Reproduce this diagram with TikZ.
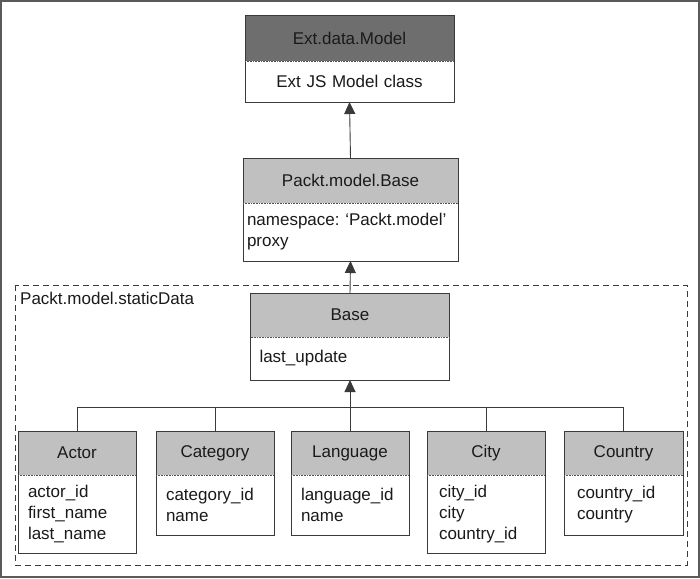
\documentclass[tikz,border=0pt]{standalone}
\usepackage{fontspec}
\setmainfont{Liberation Sans}
\usetikzlibrary{arrows.meta}
\frenchspacing
\definecolor{hdr}{HTML}{C0C0C0}
\definecolor{darkhdr}{HTML}{6E6E6E}
\definecolor{ln}{HTML}{3A3A3A}
\definecolor{txt}{HTML}{1A1A1A}
\definecolor{frame}{HTML}{5A5A5A}
\definecolor{sepc}{HTML}{555555}
\begin{document}
\begin{tikzpicture}[x=1pt,y=-1pt,
  font=\fontsize{17}{21}\selectfont, text=txt,
  hd/.style={fill=hdr, inner sep=0pt, outer sep=0pt, minimum height=44pt},
  bd/.style={fill=white, inner ysep=0pt, inner xsep=9pt, outer sep=0pt, align=left},
  outline/.style={draw=ln, line width=0.9pt},
  sep/.style={draw=sepc, line width=0.6pt, dash pattern=on 0.6pt off 1pt},
  arr/.style={draw=ln, line width=0.9pt, -{Triangle[length=12pt,width=11pt]}},
  conn/.style={draw=ln, line width=0.9pt},
]
\useasboundingbox (0,0) rectangle (700,578);
\draw[frame, line width=2pt] (1,1) rectangle (699,577);

% Ext.data.Model
\node[hd, fill=darkhdr, minimum width=209pt, minimum height=46pt] (extH) at (349.5,38) {Ext.data.Model};
\node[bd, align=center, text width=191pt, minimum height=41pt, anchor=north] (extB) at (extH.south) {Ext JS Model class};
\draw[outline] (extH.north west) rectangle (extB.south east);
\draw[sep] (extH.south west) -- (extH.south east);

% Packt.model.Base
\node[hd, minimum width=215pt, minimum height=45pt] (pkH) at (350.5,180.5) {Packt.model.Base};
\node[bd, text width=207pt, inner xsep=4pt, minimum height=58pt, anchor=north] (pkB) at (pkH.south) {namespace: ‘Packt.model’\\proxy};
\draw[outline] (pkH.north west) rectangle (pkB.south east);
\draw[sep] (pkH.south west) -- (pkH.south east);

% dashed package
\draw[ln, line width=0.9pt, dash pattern=on 6pt off 4pt] (15,285) rectangle (687,565);
\node[anchor=west, inner sep=0pt] (pkgLabel) at (20,298) {Packt.model.staticData};

% Base
\node[hd, minimum width=199pt, minimum height=44pt] (baseH) at (350,315) {Base};
\node[bd, text width=181pt, inner xsep=9pt, minimum height=43pt, anchor=north] (baseB) at (baseH.south) {last\_update};
\draw[outline] (baseH.north west) rectangle (baseB.south east);
\draw[sep] (baseH.south west) -- (baseH.south east);

% children
\newcommand{\childbox}[5]{%
  \node[hd, minimum width=#3pt] (#1H) at (#2,453) {#4};
  \node[bd, text width=#3pt-20pt, inner xsep=10pt, minimum height=#5pt, anchor=north] (#1B) at (#1H.south) {\strut};
  \draw[outline] (#1H.north west) rectangle (#1B.south east);
  \draw[sep] (#1H.south west) -- (#1H.south east);
}
\childbox{actor}{77}{118}{Actor}{78}
\childbox{category}{215}{118}{Category}{60}
\childbox{language}{350}{118}{Language}{60}
\childbox{city}{486}{118}{City}{78}
\childbox{country}{623.5}{119}{Country}{60}

\node[bd, fill=none, text width=98pt, inner xsep=10pt, minimum height=78pt, anchor=north] (actorT) at (actorH.south) {actor\_id\\first\_name\\last\_name};
\node[bd, fill=none, text width=98pt, inner xsep=10pt, minimum height=60pt, anchor=north] (categoryT) at (categoryH.south) {category\_id\\name};
\node[bd, fill=none, text width=98pt, inner xsep=10pt, minimum height=60pt, anchor=north] (languageT) at (languageH.south) {language\_id\\name};
\node[bd, fill=none, text width=94pt, inner xsep=12pt, minimum height=78pt, anchor=north] (cityT) at (cityH.south) {city\_id\\city\\country\_id};
\node[bd, fill=none, text width=93pt, inner xsep=13pt, minimum height=60pt, anchor=north] (countryT) at (countryH.south) {country\_id\\country};

% connectors
\draw[arr] (pkH.north) -- (extB.south);
\draw[arr] (baseH.north) -- (pkB.south);
\coordinate (bus) at (350,407);
\draw[conn] (actorH.north) |- (countryH.north |- bus) -- (countryH.north);
\draw[conn] (categoryH.north) -- (categoryH.north |- bus);
\draw[conn] (cityH.north) -- (cityH.north |- bus);
\draw[arr] (languageH.north) -- (baseB.south);
\end{tikzpicture}
\end{document}
